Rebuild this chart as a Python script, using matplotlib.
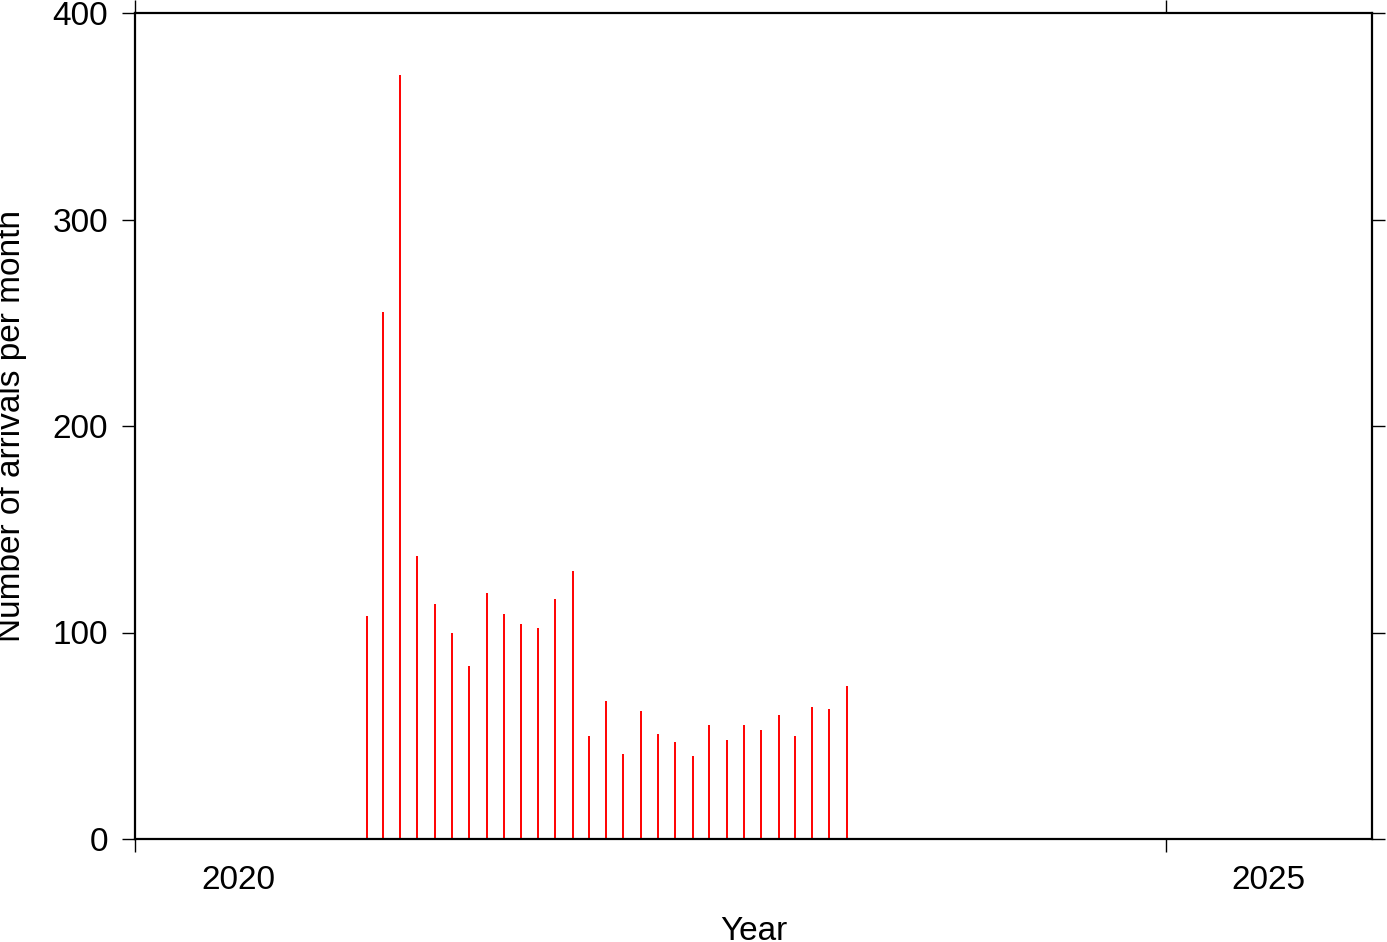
import datetime as dt
import matplotlib
matplotlib.use("Agg")
import matplotlib.pyplot as plt
import matplotlib.dates as mdates

plt.rcParams['font.family'] = ['Liberation Sans', 'DejaVu Sans']

# monthly arrival counts, Jan 2021 .. Jun 2023
start_year = 2021
start_month = 1
arrivals = [0, 108, 255, 370, 137, 114, 100, 84, 119, 109, 104, 102,
            116, 130, 50, 67, 41, 62, 51, 47, 40, 55, 48, 55,
            53, 60, 50, 64, 63, 74]

year_ticks = [2020, 2025]
y_ticks = [0, 100, 200, 300, 400]

# mid-month dates for each bar
dates = []
for i in range(len(arrivals)):
    y = start_year + (start_month - 1 + i) // 12
    m = (start_month - 1 + i) % 12 + 1
    dates.append(dt.datetime(y, m, 15))

fig = plt.figure(figsize=(13.87, 9.42), dpi=100)
ax = fig.add_axes([135/1387, 103/942, 1237/1387, 826/942])

ax.vlines(dates, 0, arrivals, colors='#ff0000', linewidth=1.4)

ax.set_xlim(dt.datetime(2020, 1, 1), dt.datetime(2026, 1, 1))
ax.set_ylim(0, 400)

# year ticks on boundaries, labels centred inside the year
ax.set_xticks([dt.datetime(y, 1, 1) for y in year_ticks])
ax.set_xticklabels([])
ax.set_xticks([dt.datetime(y, 7, 2) for y in year_ticks], minor=True)
ax.set_xticklabels([str(y) for y in year_ticks], minor=True)
ax.set_yticks(y_ticks)
ax.set_yticklabels([str(v) for v in y_ticks])

ax.tick_params(axis='both', which='major', direction='out', length=9.5, width=1,
               top=True, right=True, labelsize=24, pad=10)
ax.tick_params(axis='x', which='minor', length=0, labelsize=24, pad=19)

for s in ax.spines.values():
    s.set_linewidth(1.6)

ax.set_xlabel("Year", fontsize=24, labelpad=14)
ax.set_ylabel("Number of arrivals per month", fontsize=24, labelpad=18)

fig.savefig("out.png", dpi=100)
